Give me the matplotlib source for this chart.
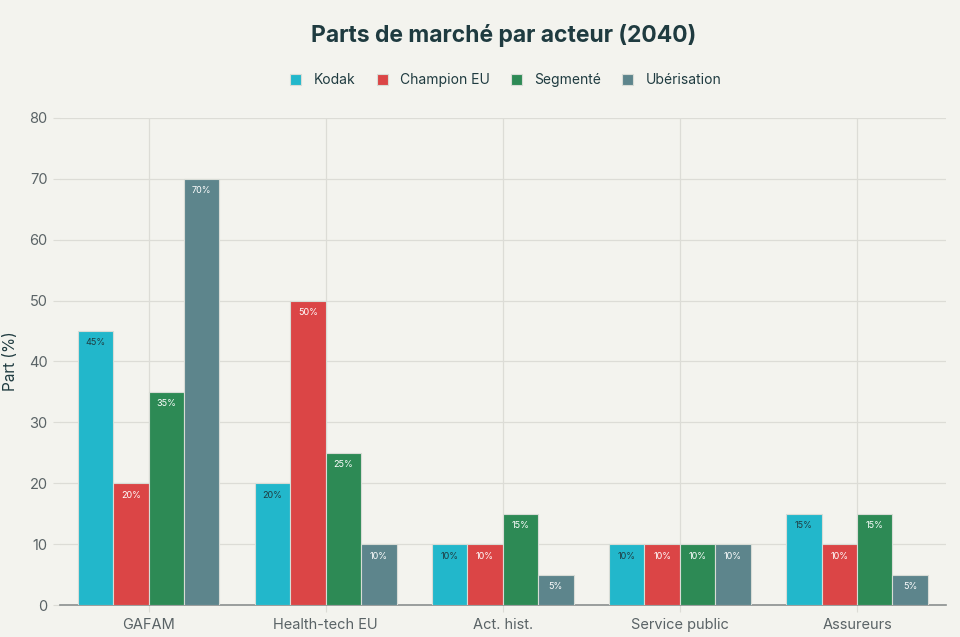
import matplotlib
matplotlib.use("Agg")
import matplotlib.pyplot as plt
import numpy as np

plt.rcParams['font.family'] = ['Inter', 'DejaVu Sans']

categories = ["GAFAM", "Health-tech EU", "Act. hist.", "Service public", "Assureurs"]
series = ["Kodak", "Champion EU", "Segmenté", "Ubérisation"]
kodak = [45, 20, 10, 10, 15]
champion = [20, 50, 10, 10, 10]
segmente = [35, 25, 15, 10, 15]
uberisation = [70, 10, 5, 10, 5]
yticks = [0, 10, 20, 30, 40, 50, 60, 70, 80]

colors = ["#22b7cb", "#db4546", "#2d8a55", "#5d858c"]
label_colors = ["#1f3b40", "white", "white", "white"]
bg = "#f3f3ee"

fig = plt.figure(figsize=(9.6, 6.37), dpi=100, facecolor=bg)
ax = fig.add_axes([0.0625, 0.050, 0.9225, 0.765], facecolor=bg)

x = np.arange(len(categories))
w = 0.2
for i, (name, vals) in enumerate(zip(series, [kodak, champion, segmente, uberisation])):
    bars = ax.bar(x + (i - 1.5) * w, vals, w, color=colors[i], label=name,
                  edgecolor="#d8dcd6", linewidth=0.8, zorder=3)
    for b, v in zip(bars, vals):
        ax.text(b.get_x() + b.get_width() / 2, v - 1.2, f"{v}%", ha="center", va="top",
                fontsize=6.5, color=label_colors[i], zorder=4)

ax.set_xlim(-0.5, len(categories) - 0.5)
ax.set_ylim(0, 80)
ax.set_yticks(yticks)
ax.set_xticks(x)
ax.set_xticklabels(categories)
ax.grid(True, color="#dcdcd6", linewidth=0.9, zorder=0)
for s in ["top", "right", "left"]:
    ax.spines[s].set_visible(False)
ax.spines["bottom"].set_color("#8a8f8f")
ax.spines["bottom"].set_linewidth(1.2)
ax.tick_params(axis="y", length=5, color="#dcdcd6", labelcolor="#5a6366", labelsize=10.5, pad=4)
ax.tick_params(axis="x", length=5, color="#dcdcd6", labelcolor="#5a6366", labelsize=10.5, pad=4)
ax.set_ylabel("Part (%)", fontsize=11, color="#1f3b40", labelpad=8)

fig.suptitle("Parts de marché par acteur (2040)", x=0.525, y=0.962, fontsize=16.5,
             fontweight="bold", color="#1f3b40")
fig.legend(loc="center", bbox_to_anchor=(0.527, 0.874), ncol=4, frameon=False,
           fontsize=10, handlelength=0.8, handleheight=0.8, columnspacing=1.5,
           handletextpad=0.9, labelcolor="#1f3b40")

fig.savefig("out.png", dpi=100, facecolor=bg)
